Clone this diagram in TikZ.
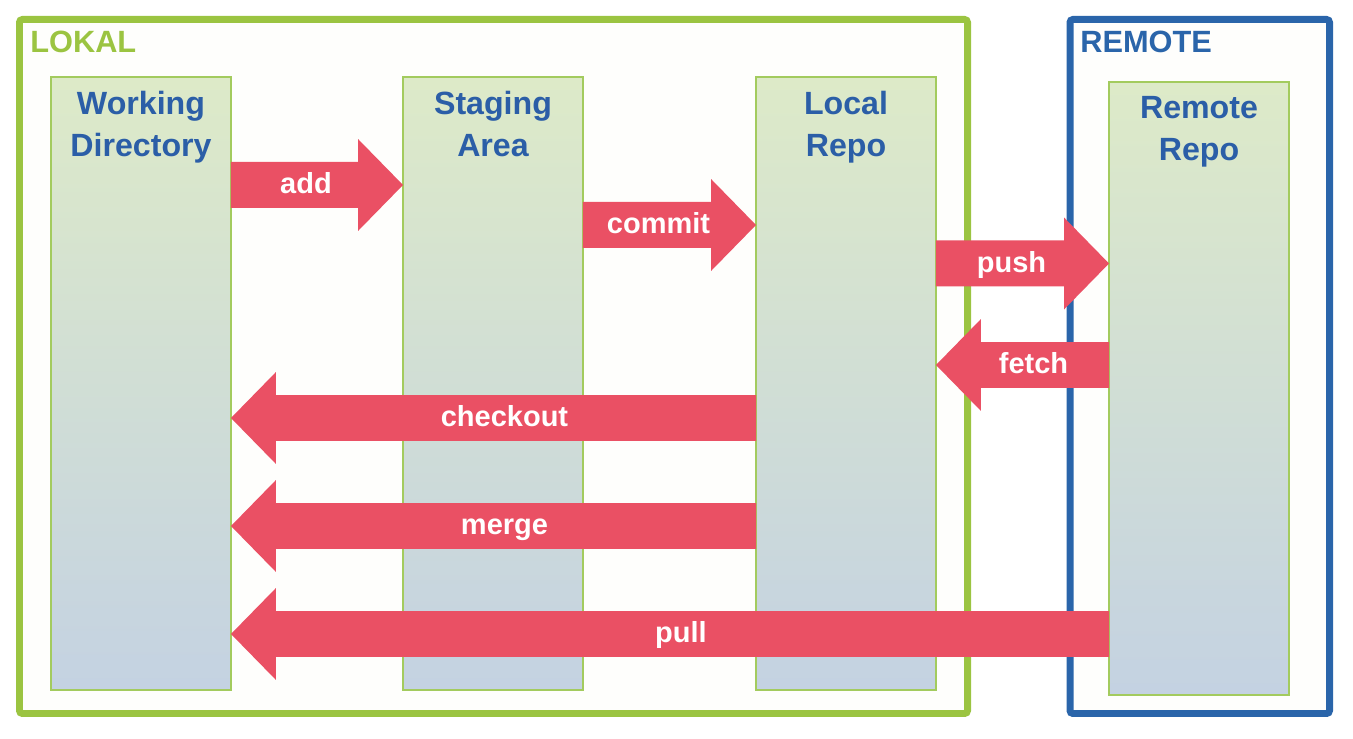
\documentclass[tikz,border=0pt]{standalone}
\usepackage{fontspec}
\setmainfont{Liberation Sans}
\usetikzlibrary{calc,positioning}

\definecolor{lokalgreen}{HTML}{9BC441}
\definecolor{remoteblue}{HTML}{2A65AA}
\definecolor{titleblue}{HTML}{2B5EA7}
\definecolor{arrowred}{HTML}{EA5064}
\definecolor{coltop}{HTML}{DDEAC8}
\definecolor{colbot}{HTML}{C4D2E2}
\definecolor{colline}{HTML}{A3CB5E}
\definecolor{framefill}{HTML}{FEFEFC}

\tikzset{
  frame/.style={line width=0.14cm, rounded corners=0.06cm, fill=framefill},
  column/.style={draw=colline, line width=0.03cm, top color=coltop, bottom color=colbot,
    minimum width=3.6cm, minimum height=12.26cm, anchor=north, outer sep=0pt},
  coltitle/.style={text=titleblue, font=\bfseries\fontsize{18.3}{23.8}\selectfont, align=center},
  arrowlabel/.style={text=white, font=\bfseries\fontsize{16.5}{18}\selectfont,
    text height=1em, text depth=0.02em},
  areatitle/.style={font=\bfseries\fontsize{17.5}{20}\selectfont, anchor=west, inner sep=0pt}
}

% fat arrow from #1 to #2 (same height), label #3
\newcommand\gitarrow[3]{%
  \fill[arrowred] let \p1=(#1), \p2=(#2), \n1={ifthenelse(\x2>\x1,1,-1)} in
    (\x1,\y1+0.46cm) -- (\x2-\n1*0.9cm,\y1+0.46cm) -- (\x2-\n1*0.9cm,\y1+0.92cm)
    -- (\x2,\y1) -- (\x2-\n1*0.9cm,\y1-0.92cm) -- (\x2-\n1*0.9cm,\y1-0.46cm)
    -- (\x1,\y1-0.46cm) -- cycle
    node[arrowlabel] at ({(\x1+\x2)/2-\n1*0.22cm},\y1) {#3};
}

\begin{document}
\begin{tikzpicture}[x=0.02cm, y=-0.02cm]
  \useasboundingbox (0,0) rectangle (1353,739);
  % areas
  \draw[frame, draw=lokalgreen] (19.5,19.5) rectangle (967.5,713.5);
  \draw[frame, draw=remoteblue] (1070,19.5) rectangle (1329.5,713.5);
  \node[areatitle, text=lokalgreen] (lokal) at (30,42) {LOKAL};
  \node[areatitle, text=remoteblue] (remote) at (1080,42) {REMOTE};
  % columns
  \node[column] (wd) at (141,77) {};
  \node[column] (sa) at (493,77) {};
  \node[column] (lr) at (846,77) {};
  \node[column] (rr) at (1199,82) {};
  \node[coltitle, below=0.17cm of wd.north] (wdtitle) {Working\\Directory};
  \node[coltitle, below=0.17cm of sa.north] (satitle) {Staging\\Area};
  \node[coltitle, below=0.17cm of lr.north] (lrtitle) {Local\\Repo};
  \node[coltitle, below=0.17cm of rr.north] (rrtitle) {Remote\\Repo};
  % commands
  \gitarrow{wd.east |- 0,185}{sa.west |- 0,185}{add}
  \gitarrow{sa.east |- 0,225}{lr.west |- 0,225}{commit}
  \gitarrow{lr.east |- 0,263.5}{rr.west |- 0,263.5}{push}
  \gitarrow{rr.west |- 0,365}{lr.east |- 0,365}{fetch}
  \gitarrow{lr.west |- 0,418}{wd.east |- 0,418}{checkout}
  \gitarrow{lr.west |- 0,526}{wd.east |- 0,526}{merge}
  \gitarrow{rr.west |- 0,634}{wd.east |- 0,634}{pull}
\end{tikzpicture}
\end{document}
